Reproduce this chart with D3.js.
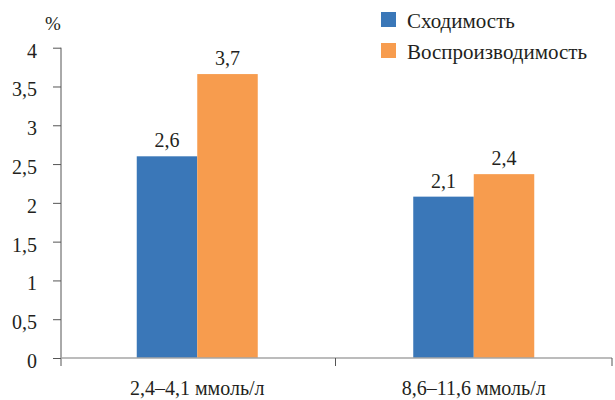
<!DOCTYPE html>
<html><head><meta charset="utf-8">
<script src="https://cdn.jsdelivr.net/npm/d3@7"></script>
</head><body style="margin:0"><svg id="c" width="615" height="400"></svg>
<script>
const categories = ["2,4–4,1 ммоль/л", "8,6–11,6 ммоль/л"];
const seriesNames = ["Сходимость", "Воспроизводимость"];
const convergence = [2.6, 2.08];
const reproducibility = [3.66, 2.37];
const convergenceLabels = ["2,6", "2,1"];
const reproducibilityLabels = ["3,7", "2,4"];
const yTicks = [0, 0.5, 1, 1.5, 2, 2.5, 3, 3.5, 4];
const colors = ["#3A77B8", "#F79C4E"];

const serifFont = "Times New Roman";
const ink = "#231f20";
const svg = d3.select("#c");
const mLeft = 61, mRight = 612, mTop = 47.7, mBottom = 358;
const y = d3.scaleLinear().domain([0, 4]).range([mBottom, mTop]);
const x = d3.scaleBand().domain(categories).range([59, mRight]).padding(0);
const inner = d3.scaleBand().domain(seriesNames).range([0, x.bandwidth() * 0.4376]);
const fmt = v => String(v).replace(".", ",");

// y axis
const ya = svg.append("g").attr("transform", `translate(${mLeft},0)`)
  .call(d3.axisLeft(y).tickValues(yTicks).tickSize(8).tickPadding(16).tickFormat(fmt));
ya.attr("font-family", serifFont).attr("font-size", 20);
ya.select(".domain").attr("stroke", "#555").attr("d", `M0,${mTop}V${mBottom + 8}`);
ya.selectAll(".tick line").attr("stroke", "#555");
ya.selectAll(".tick text").attr("fill", ink).attr("dy", "0.47em").attr("font-size", 20).attr("font-family", serifFont);

svg.append("text").attr("x", 53).attr("y", 30).attr("text-anchor", "middle")
  .attr("font-family", serifFont).attr("font-size", 19).attr("fill", ink).text("%");

// bars
const data = categories.map((c, i) => ({c, vals: [convergence[i], reproducibility[i]], labels: [convergenceLabels[i], reproducibilityLabels[i]]}));
const groups = svg.append("g").selectAll("g").data(data).join("g")
  .attr("transform", d => `translate(${x(d.c) + (x.bandwidth() - inner.range()[1]) / 2},0)`);
groups.selectAll("rect").data(d => d.vals.map((v, j) => ({v, s: seriesNames[j], j})))
  .join("rect")
  .attr("x", d => inner(d.s)).attr("width", inner.bandwidth())
  .attr("y", d => y(d.v)).attr("height", d => y(0) - y(d.v))
  .attr("fill", d => colors[d.j]);
groups.selectAll("text").data(d => d.vals.map((v, j) => ({v, s: seriesNames[j], t: d.labels[j]})))
  .join("text")
  .attr("x", d => inner(d.s) + inner.bandwidth() / 2).attr("y", d => y(d.v) - 9)
  .attr("text-anchor", "middle").attr("font-family", serifFont).attr("font-size", 20).attr("fill", ink)
  .text(d => d.t);

// x axis
const xa = svg.append("g").attr("transform", `translate(0,${mBottom})`)
  .call(d3.axisBottom(x).tickSize(0).tickPadding(23));
xa.attr("font-family", serifFont).attr("font-size", 20);
xa.select(".domain").attr("stroke", "#a6a6a6").attr("stroke-width", 1.5).attr("d", `M${mLeft},0H${mRight}`);
xa.selectAll(".tick text").attr("fill", ink).attr("font-size", 20).attr("font-family", serifFont);
svg.append("g").selectAll("line").data(categories).join("line")
  .attr("x1", d => x(d) + x.bandwidth()).attr("x2", d => x(d) + x.bandwidth())
  .attr("y1", mBottom).attr("y2", mBottom + 8).attr("stroke", "#555");

// legend
const lg = svg.append("g").selectAll("g").data(seriesNames).join("g")
  .attr("transform", (d, i) => `translate(381,${12 + i * 31})`);
lg.append("rect").attr("width", 15).attr("height", 15).attr("fill", (d, i) => colors[i]);
lg.append("text").attr("x", 26).attr("y", 16).attr("font-family", serifFont).attr("font-size", 21).attr("fill", ink).text(d => d);
</script></body></html>
